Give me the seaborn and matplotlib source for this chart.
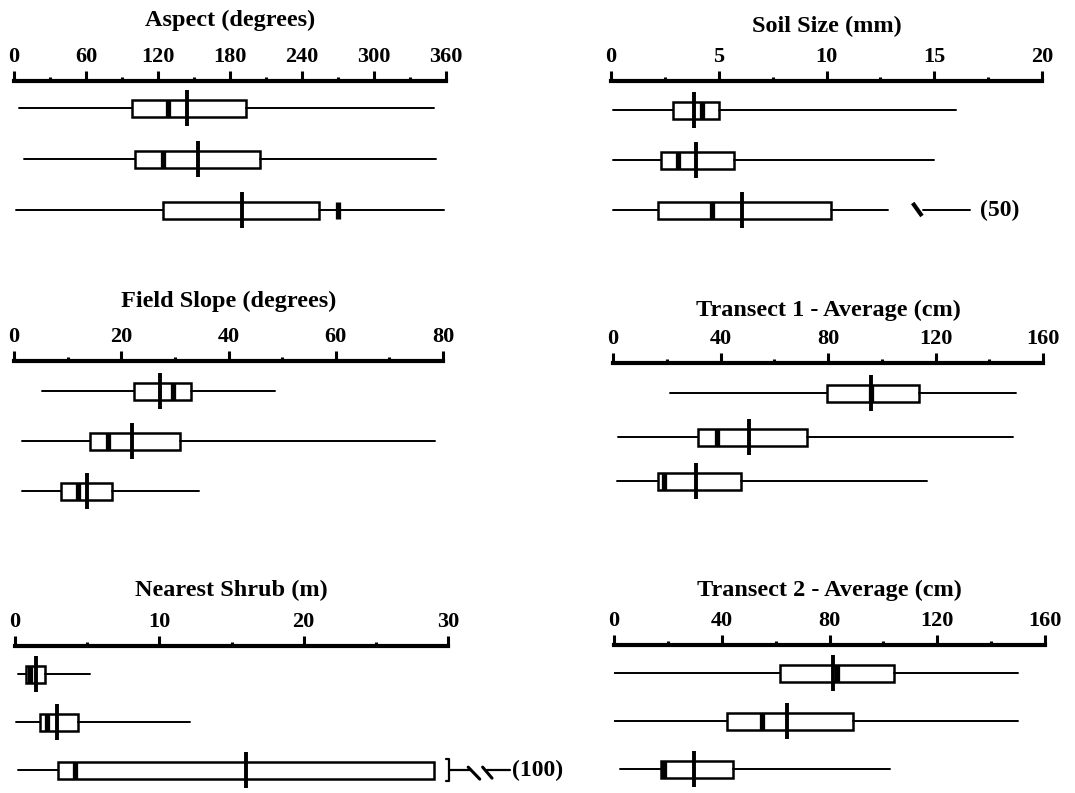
import matplotlib.pyplot as plt
import seaborn as sns
import pandas as pd
from matplotlib.ticker import MultipleLocator

# Cada fila: bigote inferior, Q1, mediana, Q3, bigote superior, media
aspect = [[4, 98, 128, 193, 350, 144],
          [8, 101, 124, 205, 352, 153],
          [2, 124, 270, 254, 358, 190]]
soil = [[0.1, 2.9, 4.2, 5.0, 16.0, 3.85],
        [0.1, 2.3, 3.1, 5.7, 15.0, 3.95],
        [0.1, 2.2, 4.7, 10.2, 12.85, 6.1]]
slope = [[5.2, 22.4, 29.6, 33.0, 48.7, 27.2],
         [1.5, 14.2, 17.5, 31.0, 78.5, 22.0],
         [1.5, 8.8, 11.9, 18.3, 34.5, 13.6]]
transect1 = [[21.2, 79.6, 96.0, 113.9, 150, 96.0],
             [1.9, 31.6, 38.7, 72.0, 149, 50.6],
             [1.5, 16.7, 19.0, 47.6, 117, 30.9]]
shrub = [[0.2, 0.76, 1.05, 2.08, 5.2, 1.45],
         [0.1, 1.7, 2.2, 4.35, 12.1, 2.9],
         [0.2, 3.0, 4.15, 29.0, 100, 16.0]]
transect2 = [[0, 61.7, 82.9, 104.0, 150, 81.4],
             [0, 42.0, 55.0, 88.8, 150, 64.3],
             [2.2, 17.5, 18.6, 44.2, 102.6, 29.7]]

titles = ['Aspect (degrees)', 'Soil Size (mm)', 'Field Slope (degrees)',
          'Transect 1 - Average (cm)', 'Nearest Shrub (m)', 'Transect 2 - Average (cm)']
x_max = [360, 20, 80, 160, 30, 160]
x_step = [60, 5, 20, 40, 10, 40]

# valores fuera de escala
soil_far = 50
shrub_far = 100

panels = [aspect, soil, slope, transect1, shrub, transect2]

sns.set_theme(style="white")
plt.rcParams['font.family'] = ['Liberation Serif', 'DejaVu Serif']
plt.rcParams['font.weight'] = 'bold'
plt.rcParams['text.color'] = 'black'

W, H = 1075, 793
fig = plt.figure(figsize=(W / 100, H / 100), dpi=100)

# posicion de cada eje en pixeles: izquierda, derecha, linea del eje, separacion, primera fila
layout = [(14, 446, 81, 51, 27), (611, 1042, 81, 50, 29),
          (14, 443, 361, 50, 30), (613, 1043, 363, 44, 30),
          (15, 448, 646, 48, 28), (614, 1045, 645, 48, 28)]
title_off = [61, 55, 60, 53, 56, 55]
ax_h = 180

axes = []
for i, rows in enumerate(panels):
    x0, x1, top, sp, off = layout[i]
    ax = fig.add_axes([x0 / W, 1 - (top + ax_h) / H, (x1 - x0) / W, ax_h / H])
    axes.append(ax)

    stats = []
    for r in rows:
        hi = r[4] if r[4] <= x_max[i] else r[3]
        stats.append(dict(whislo=r[0], q1=r[1], med=r[2], q3=r[3], whishi=hi, fliers=[]))
    ax.bxp(stats, positions=[0, 1, 2], widths=17 / sp, orientation='horizontal',
           showcaps=False, showfliers=False, patch_artist=True, manage_ticks=False,
           boxprops=dict(facecolor='white', edgecolor='black', linewidth=1.8),
           whiskerprops=dict(color='black', linewidth=1.4),
           medianprops=dict(color='black', linewidth=3.8, solid_capstyle='butt'))

    df = pd.DataFrame({'media': [r[5] for r in rows], 'fila': [0, 1, 2]})
    sns.scatterplot(data=df, x='media', y='fila', marker='|', s=700, linewidth=2.8,
                    color='black', ax=ax, legend=False, zorder=5)

    ax.set_xlim(0, x_max[i])
    ax.set_ylim((ax_h - off) / sp, -off / sp)
    ax.set_xlabel('')
    ax.set_ylabel('')
    ax.set_yticks([])
    ax.xaxis.set_ticks_position('top')
    ax.xaxis.set_major_locator(MultipleLocator(x_step[i]))
    ax.xaxis.set_minor_locator(MultipleLocator(x_step[i] / 2))
    ax.tick_params(axis='x', which='major', direction='out', length=7, width=2.2,
                   pad=3, labelsize=16, colors='black', top=True, bottom=False,
                   labeltop=True, labelbottom=False)
    ax.tick_params(axis='x', which='minor', direction='out', length=3, width=2.2,
                   colors='black', top=True, bottom=False)
    for s in ['bottom', 'left', 'right']:
        ax.spines[s].set_visible(False)
    ax.spines['top'].set_linewidth(3)
    ax.spines['top'].set_color('black')
    ax.patch.set_alpha(0)

    ax.annotate(titles[i], xy=(0.5, 1), xycoords='axes fraction',
                xytext=(0, title_off[i] * 0.72), textcoords='offset points',
                ha='center', va='center', fontsize=17.5, fontweight='bold',
                color='black')

# Soil Size: valor lejano (50)
ax = axes[1]
ax.plot([14.0, 14.43], [2 - 0.14, 2 + 0.12], color='black', lw=3, clip_on=False,
        solid_capstyle='butt')
ax.plot([14.48, 16.66], [2, 2], color='black', lw=1.4, clip_on=False)
ax.text(17.1, 2, f'({soil_far})', ha='left', va='center', fontsize=17,
        fontweight='bold', color='black', clip_on=False)

# Nearest Shrub: bigote hasta (100)
ax = axes[4]
ax.plot([29.85, 30.1, 30.1, 29.85], [2 - 0.23, 2 - 0.23, 2 + 0.23, 2 + 0.23],
        color='black', lw=1.6, clip_on=False)
ax.plot([30.1, 31.5], [2, 2], color='black', lw=1.6, clip_on=False)
ax.plot([32.7, 34.3], [2, 2], color='black', lw=1.6, clip_on=False)
ax.plot([31.4, 32.2], [2 - 0.06, 2 + 0.19], color='black', lw=2.2, clip_on=False)
ax.plot([32.4, 33.05], [2 - 0.06, 2 + 0.17], color='black', lw=2.2, clip_on=False)
ax.text(34.45, 2, f'({shrub_far})', ha='left', va='center', fontsize=17,
        fontweight='bold', color='black', clip_on=False)

fig.savefig('out.png', dpi=100)
